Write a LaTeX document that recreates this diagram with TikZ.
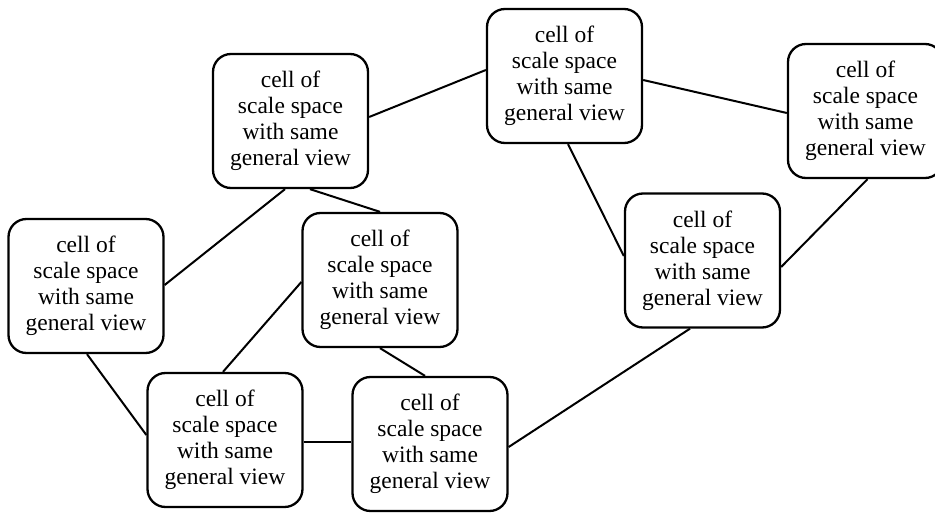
\documentclass[tikz,border=0pt]{standalone}
\usepackage{fontspec}
\setmainfont{Liberation Serif}
\usetikzlibrary{calc}
\tikzset{
  cellbox/.style={draw, line width=2.3pt, rounded corners=18pt, minimum width=155pt, minimum height=134pt, align=center, inner sep=0pt, font=\fontsize{23.5}{26}\selectfont},
  link/.style={line width=2pt}
}
\begin{document}
\begin{tikzpicture}[x=1pt,y=-1pt]
\useasboundingbox (0,0) rectangle (935,513);
\newcommand{\celltext}{cell of\\scale space\\with same\\general view}
\node[cellbox] (b1) at (290.5,121) {\celltext};
\node[cellbox] (b2) at (564.5,76) {\celltext};
\node[cellbox] (b3) at (865.5,111) {\celltext};
\node[cellbox] (b4) at (702.5,260.5) {\celltext};
\node[cellbox] (b5) at (86,286) {\celltext};
\node[cellbox] (b6) at (380,280) {\celltext};
\node[cellbox] (b7) at (225,440) {\celltext};
\node[cellbox] (b8) at (430,444) {\celltext};
\draw[link] ($(b1.east)+(0,-4)$) -- ($(b2.west)+(0,-6)$);
\draw[link] ($(b2.east)+(0,4)$) -- ($(b3.west)+(0,2)$);
\draw[link] ($(b2.south)+(3.5,0)$) -- ($(b4.west)+(0,-4.5)$);
\draw[link] ($(b3.south)+(2,0)$) -- ($(b4.east)+(0,6.5)$);
\draw[link] ($(b4.south)+(-12.5,0)$) -- ($(b8.east)+(0,3)$);
\draw[link] ($(b1.south)+(-5.5,0)$) -- ($(b5.east)+(0,-1)$);
\draw[link] ($(b1.south)+(19.5,0)$) -- (b6.north);
\draw[link] ($(b6.west)+(0,2)$) -- ($(b7.north)+(-2,0)$);
\draw[link] (b6.south) -- ($(b8.north)+(-5,0)$);
\draw[link] ($(b5.south)+(1,0)$) -- ($(b7.west)+(0,-5)$);
\draw[link] ($(b7.east)+(0,2)$) -- ($(b8.west)+(0,-2)$);
\end{tikzpicture}
\end{document}
